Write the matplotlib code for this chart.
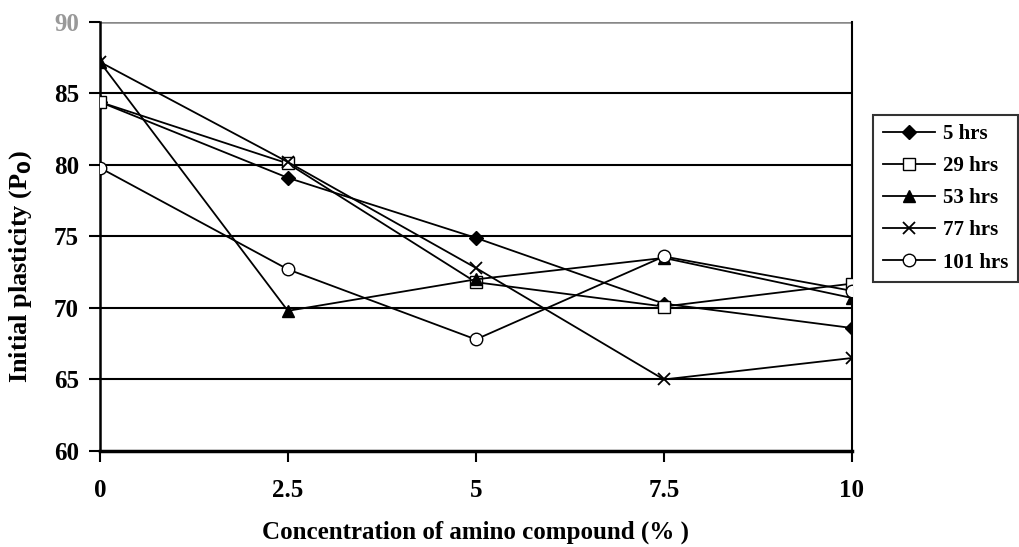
import numpy as np
import matplotlib.pyplot as plt

plt.rcParams['font.family'] = ['Liberation Serif', 'DejaVu Serif']
plt.rcParams['font.weight'] = 'bold'

# concentration of amino compound (%)
conc = [0, 2.5, 5, 7.5, 10]

# initial plasticity values for each ageing time
hrs5 = [84.4, 79.1, 74.9, 70.3, 68.6]
hrs29 = [84.4, 80.1, 71.8, 70.1, 71.7]
hrs53 = [87.2, 69.8, 72.0, 73.5, 70.7]
hrs77 = [87.2, 80.2, 72.8, 65.0, 66.5]
hrs101 = [79.8, 72.7, 67.8, 73.6, 71.2]

labels = ['5 hrs', '29 hrs', '53 hrs', '77 hrs', '101 hrs']
xticklabels = ['0', '2.5', '5', '7.5', '10']

fig = plt.figure(figsize=(10.19, 5.47), dpi=100)
ax = fig.add_axes([0.098, 0.1755, 0.738, 0.7845])

# horizontal gridlines
for g in [65, 70, 75, 80, 85]:
    ax.axhline(g, color='black', lw=1.5, zorder=1)
ax.axhline(90, color='#888888', lw=1.8, zorder=1)

ms = 8
ax.plot(conc, hrs5, color='black', lw=1.3, marker='D', ms=ms - 1, mfc='black', mec='black', label=labels[0], zorder=3)
ax.plot(conc, hrs29, color='black', lw=1.3, marker='s', ms=ms, mfc='white', mec='black', label=labels[1], zorder=3)
ax.plot(conc, hrs53, color='black', lw=1.3, marker='^', ms=ms + 1, mfc='black', mec='black', label=labels[2], zorder=3)
ax.plot(conc, hrs77, color='black', lw=1.3, marker='x', ms=ms, mew=1.3, mec='black', label=labels[3], zorder=3)
ax.plot(conc, hrs101, color='black', lw=1.3, marker='o', ms=ms + 1, mfc='white', mec='black', label=labels[4], zorder=3)

ax.set_xlim(0, 10)
ax.set_ylim(60, 90)
ax.set_xticks(conc)
ax.set_xticklabels(xticklabels)
ax.set_yticks([60, 65, 70, 75, 80, 85, 90])

ax.spines['top'].set_visible(False)
ax.spines['left'].set_linewidth(1.8)
ax.spines['right'].set_linewidth(1.5)
ax.spines['bottom'].set_linewidth(2.5)

ax.tick_params(axis='both', direction='out', length=8, width=1.5, labelsize=18)
ax.tick_params(axis='x', pad=12)
ax.tick_params(axis='y', pad=7)
ax.get_yticklabels()[-1].set_color('#999999')

ax.set_xlabel('Concentration of amino compound (% )', fontsize=18, fontweight='bold')
ax.xaxis.set_label_coords(0.5, -0.19)
ax.xaxis.label.set_va('center')
ax.set_ylabel('Initial plasticity (P$_\\mathbf{0}$)', fontsize=19, fontweight='bold')
ax.yaxis.set_label_coords(-0.106, 0.43)
ax.yaxis.label.set_va('center')

leg = fig.legend(loc='upper left', bbox_to_anchor=(0.857, 0.79), borderaxespad=0, frameon=True,
                 fontsize=15, handlelength=2.5, labelspacing=0.58, borderpad=0.45,
                 handletextpad=0.4, fancybox=False, edgecolor='black')
leg.get_frame().set_linewidth(1.5)

fig.savefig('out.png', dpi=100)
